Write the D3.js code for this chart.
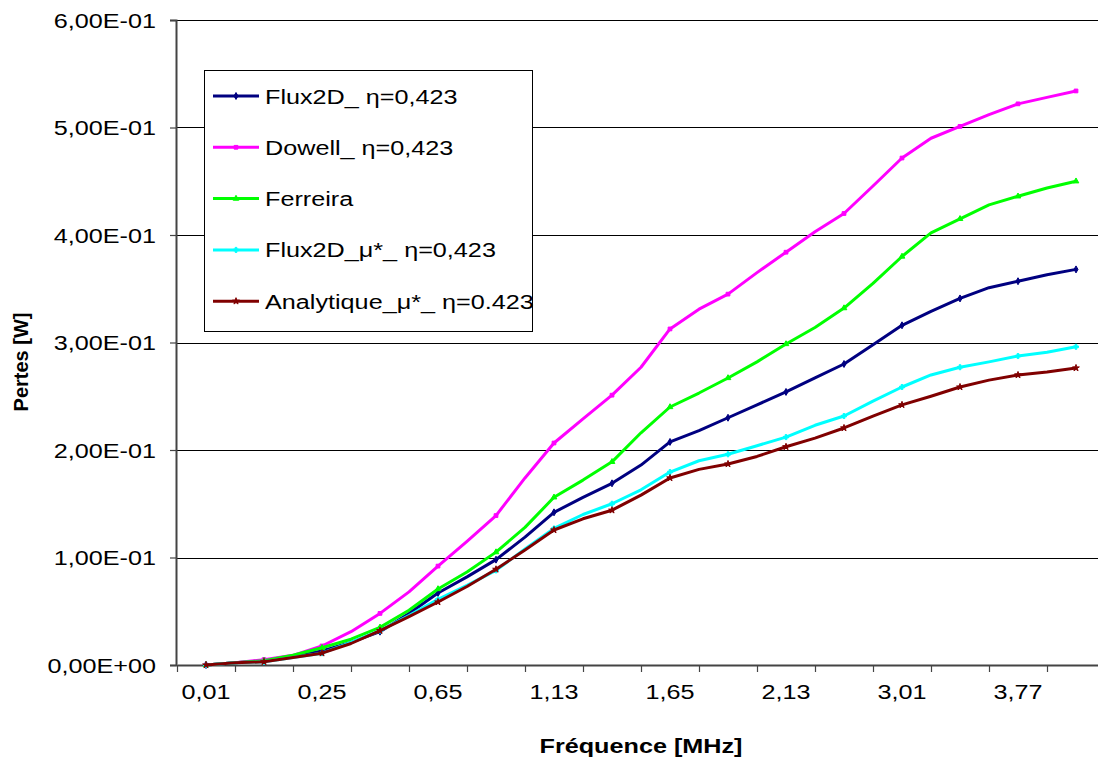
<!DOCTYPE html>
<html>
<head>
<meta charset="utf-8">
<script src="https://cdn.jsdelivr.net/npm/d3@7"></script>
<style>
  html, body { margin: 0; padding: 0; background: #fff; }
  svg { display: block; }
  text { font-family: "Liberation Sans", Arial, sans-serif; fill: #000; }
</style>
</head>
<body>
<svg id="chart" width="1098" height="762"></svg>
<script>
// ---- data (half-step resolution, markers on whole steps) ----
const tickLabels = ["0,01", "0,25", "0,65", "1,13", "1,65", "2,13", "3,01", "3,77"];
const yTicks = [0, 0.1, 0.2, 0.3, 0.4, 0.5, 0.6];

const seriesNames = ["Flux2D_ η=0,423", "Dowell_ η=0,423", "Ferreira", "Flux2D_μ*_ η=0,423", "Analytique_μ*_ η=0.423"];
const seriesColors = ["#000080", "#FF00FF", "#00FF00", "#00FFFF", "#800000"];

const flux2D = [0, 0.002, 0.004, 0.008, 0.013, 0.021, 0.031, 0.048, 0.067, 0.082, 0.098, 0.119, 0.142, 0.156, 0.169, 0.186,
  0.2075, 0.218, 0.230, 0.242, 0.254, 0.267, 0.280, 0.298, 0.316, 0.329, 0.341, 0.351, 0.357, 0.363, 0.368];
const dowell = [0, 0.002, 0.005, 0.009, 0.0177, 0.031, 0.048, 0.068, 0.092, 0.115, 0.139, 0.174, 0.2065, 0.229, 0.251, 0.277,
  0.3126, 0.331, 0.345, 0.365, 0.384, 0.403, 0.420, 0.4456, 0.4716, 0.490, 0.501, 0.512, 0.522, 0.528, 0.534];
const ferreira = [0, 0.002, 0.004, 0.009, 0.016, 0.024, 0.035, 0.051, 0.0707, 0.0865, 0.105, 0.128, 0.156, 0.172, 0.189, 0.216,
  0.240, 0.253, 0.267, 0.282, 0.2986, 0.314, 0.332, 0.355, 0.380, 0.402, 0.415, 0.428, 0.436, 0.4437, 0.450];
const flux2DMu = [0, 0.002, 0.003, 0.007, 0.011, 0.021, 0.032, 0.046, 0.061, 0.074, 0.088, 0.108, 0.127, 0.140, 0.150, 0.163,
  0.1795, 0.190, 0.196, 0.204, 0.212, 0.223, 0.2316, 0.2455, 0.2586, 0.2698, 0.277, 0.282, 0.2874, 0.291, 0.296];
const analytiqueMu = [0, 0.002, 0.003, 0.007, 0.011, 0.020, 0.032, 0.045, 0.0586, 0.073, 0.089, 0.107, 0.1256, 0.136, 0.144, 0.158,
  0.174, 0.182, 0.187, 0.194, 0.203, 0.211, 0.2205, 0.2316, 0.242, 0.250, 0.2586, 0.265, 0.2698, 0.2726, 0.2763];

const seriesValues = [flux2D, dowell, ferreira, flux2DMu, analytiqueMu];
const symbols = [d3.symbolDiamond, d3.symbolSquare, d3.symbolTriangle, d3.symbolCross, d3.symbolStar];

// ---- layout ----
const svg = d3.select("#chart");
const plot = { left: 176, right: 1105, top: 20, bottom: 665 };
const SX = 1.2; // horizontal text stretch of the original rendering
const FS = 21;

const nCat = 16;
const x = d3.scaleLinear().domain([-0.5, nCat - 0.5]).range([plot.left + 1, plot.right]);
const y = d3.scaleLinear().domain([0, 0.6]).range([plot.bottom, plot.top]);

function fmtSci(v) {
  if (v === 0) return "0,00E+00";
  const s = v.toExponential(2);
  const [m, e] = s.split("e");
  const ev = parseInt(e, 10);
  const es = (ev < 0 ? "-" : "+") + String(Math.abs(ev)).padStart(2, "0");
  return m.replace(".", ",") + "E" + es;
}

function stretchedText(g, tx, ty, str, anchor, weight) {
  return g.append("text")
    .attr("transform", `translate(${tx},${ty}) scale(${SX},1)`)
    .attr("text-anchor", anchor)
    .style("font-size", FS + "px")
    .style("font-weight", weight || "normal")
    .text(str);
}

// gridlines
svg.append("g").selectAll("line").data(yTicks.slice(1)).join("line")
  .attr("x1", plot.left).attr("x2", plot.right)
  .attr("y1", d => Math.round(y(d)) + 0.5).attr("y2", d => Math.round(y(d)) + 0.5)
  .attr("stroke", "#000").attr("stroke-width", 1);

// y axis
const yAxis = d3.axisLeft(y).tickValues(yTicks).tickSize(6).tickFormat("");
const gy = svg.append("g").attr("transform", `translate(${plot.left},0)`).call(yAxis);
gy.select(".domain").attr("stroke", "#444").attr("stroke-width", 2);
gy.selectAll(".tick line").attr("stroke", "#444").attr("stroke-width", 1.2);
const yl = svg.append("g");
yTicks.forEach(v => stretchedText(yl, 156, y(v) + 7.5, fmtSci(v), "end"));

// x axis
const xTickPos = d3.range(-0.5, nCat, 1);
const xAxis = d3.axisBottom(x).tickValues(xTickPos).tickSize(7).tickFormat("").tickSizeOuter(0);
const gx = svg.append("g").attr("transform", `translate(0,${plot.bottom})`).call(xAxis);
gx.select(".domain").attr("stroke", "#444").attr("stroke-width", 2);
gx.selectAll(".tick line").attr("stroke", "#444").attr("stroke-width", 1.2);
const xl = svg.append("g");
tickLabels.forEach((t, i) => stretchedText(xl, x(i * 2), 699, t, "middle"));

// axis titles
stretchedText(svg, 641, 753, "Fréquence [MHz]", "middle", "bold");
svg.append("text")
  .attr("transform", `translate(28,${362}) rotate(-90)`)
  .attr("text-anchor", "middle")
  .style("font-size", "20px").style("font-weight", "bold")
  .text("Pertes [W]");

// series
const line = d3.line().x((d, k) => x(k / 2)).y(d => y(d));
const gS = svg.append("g");
seriesValues.forEach((vals, si) => {
  gS.append("path").datum(vals)
    .attr("d", line)
    .attr("fill", "none")
    .attr("stroke", seriesColors[si])
    .attr("stroke-width", 3)
    .attr("stroke-linejoin", "round");
  const sym = d3.symbol().type(symbols[si]).size(14);
  gS.append("g").selectAll("path").data(vals.map((v, k) => [k, v]).filter(d => d[0] % 2 === 0))
    .join("path")
    .attr("transform", d => `translate(${x(d[0] / 2)},${y(d[1])})`)
    .attr("d", sym)
    .attr("fill", seriesColors[si])
    .attr("stroke", seriesColors[si])
    .attr("stroke-width", 1);
});

// legend
const leg = svg.append("g");
leg.append("rect").attr("x", 204.5).attr("y", 70.5).attr("width", 328).attr("height", 261)
  .attr("fill", "#fff").attr("stroke", "#000").attr("stroke-width", 1);
seriesNames.forEach((name, i) => {
  const cy = 96 + i * 51.3;
  leg.append("line").attr("x1", 213).attr("x2", 259).attr("y1", cy).attr("y2", cy)
    .attr("stroke", seriesColors[i]).attr("stroke-width", 3);
  leg.append("path").attr("transform", `translate(236,${cy})`)
    .attr("d", d3.symbol().type(symbols[i]).size(14))
    .attr("fill", seriesColors[i]).attr("stroke", seriesColors[i]);
  stretchedText(leg, 265, cy + 7.5, name, "start");
});
</script>
</body>
</html>
